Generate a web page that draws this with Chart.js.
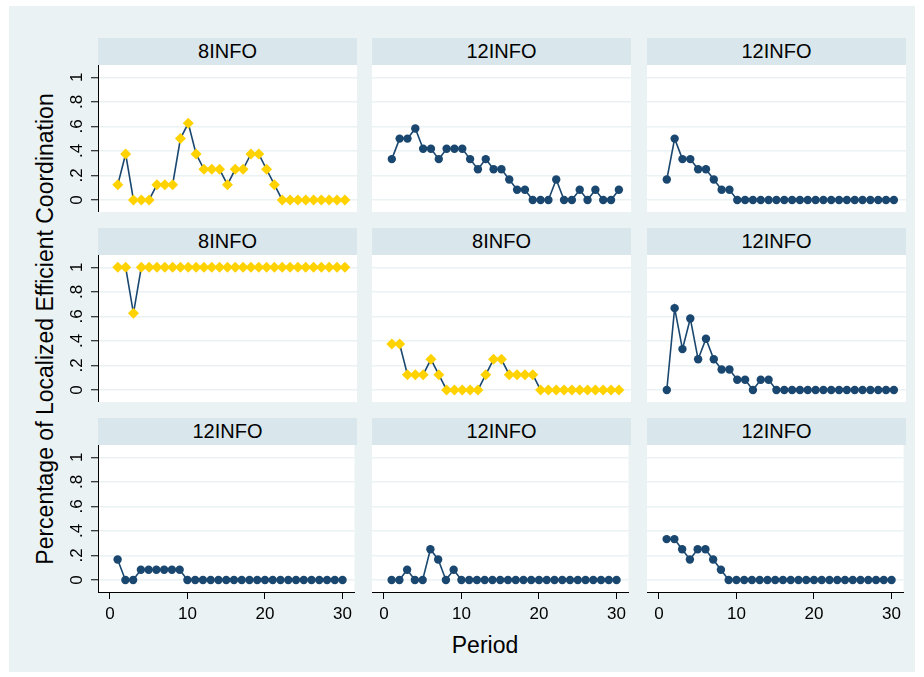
<!DOCTYPE html>
<html>
<head>
<meta charset="utf-8">
<script src="https://cdn.jsdelivr.net/npm/chart.js@4.4.0/dist/chart.umd.min.js"></script>
<style>
    body { margin: 0; background: #fff; font-family: "Liberation Sans", Arial, sans-serif; }
    #frame { position: absolute; left: 9px; top: 6px; width: 906px; height: 666px; background: #eaf2f3; }
    .strip { position: absolute; height: 27px; background: #d9e6eb; color: #000; font-size: 20px; text-align: center; line-height: 27px; }
    canvas { position: absolute; }
    .title { position: absolute; color: #000; font-size: 23px; white-space: nowrap; }
</style>
</head>
<body>
<div id="frame"></div>
<div class="title" style="left:45px;top:329px;transform:translate(-50%,-50%) rotate(-90deg);">Percentage of Localized Efficient Coordination</div>
<div class="title" style="left:485px;top:645px;transform:translate(-50%,-50%);">Period</div>
<script>
const periods = [1, 2, 3, 4, 5, 6, 7, 8, 9, 10, 11, 12, 13, 14, 15, 16, 17, 18, 19, 20, 21, 22, 23, 24, 25, 26, 27, 28, 29, 30];
const panelTitles = ['8INFO', '12INFO', '12INFO', '8INFO', '8INFO', '12INFO', '12INFO', '12INFO', '12INFO'];
const xTicks = [0, 10, 20, 30];
const yTicks = [0, 0.2, 0.4, 0.6, 0.8, 1];
const yTickLabels = ['0', '.2', '.4', '.6', '.8', '1'];

// one series per panel, left to right, top to bottom
const panel1 = [.125, .375, 0, 0, 0, .125, .125, .125, .5, .625, .375, .25, .25, .25, .125, .25, .25, .375, .375, .25, .125, 0, 0, 0, 0, 0, 0, 0, 0, 0];
const panel2 = [.333, .5, .5, .583, .417, .417, .333, .417, .417, .417, .333, .25, .333, .25, .25, .167, .083, .083, 0, 0, 0, .167, 0, 0, .083, 0, .083, 0, 0, .083];
const panel3 = [.167, .5, .333, .333, .25, .25, .167, .083, .083, 0, 0, 0, 0, 0, 0, 0, 0, 0, 0, 0, 0, 0, 0, 0, 0, 0, 0, 0, 0, 0];
const panel4 = [1, 1, .625, 1, 1, 1, 1, 1, 1, 1, 1, 1, 1, 1, 1, 1, 1, 1, 1, 1, 1, 1, 1, 1, 1, 1, 1, 1, 1, 1];
const panel5 = [.375, .375, .125, .125, .125, .25, .125, 0, 0, 0, 0, 0, .125, .25, .25, .125, .125, .125, .125, 0, 0, 0, 0, 0, 0, 0, 0, 0, 0, 0];
const panel6 = [0, .667, .333, .583, .25, .417, .25, .167, .167, .083, .083, 0, .083, .083, 0, 0, 0, 0, 0, 0, 0, 0, 0, 0, 0, 0, 0, 0, 0, 0];
const panel7 = [.167, 0, 0, .083, .083, .083, .083, .083, .083, 0, 0, 0, 0, 0, 0, 0, 0, 0, 0, 0, 0, 0, 0, 0, 0, 0, 0, 0, 0, 0];
const panel8 = [0, 0, .083, 0, 0, .25, .167, 0, .083, 0, 0, 0, 0, 0, 0, 0, 0, 0, 0, 0, 0, 0, 0, 0, 0, 0, 0, 0, 0, 0];
const panel9 = [.333, .333, .25, .167, .25, .25, .167, .083, 0, 0, 0, 0, 0, 0, 0, 0, 0, 0, 0, 0, 0, 0, 0, 0, 0, 0, 0, 0, 0, 0];
const panels = [panel1, panel2, panel3, panel4, panel5, panel6, panel7, panel8, panel9];

const navy = '#1a476f';
const gold = '#ffd200';
const fontFamily = '"Liberation Sans", Arial, sans-serif';

// panel geometry
const colX = [98, 372, 647];
const rowY = [38, 228, 418];
const plotW = 259, plotH = 147, stripH = 27;

// white plot region behind the grid
const plotBg = {
    id: 'plotBg',
    beforeDraw(chart) {
        const a = chart.chartArea, ctx = chart.ctx;
        ctx.save();
        ctx.fillStyle = '#fff';
        ctx.fillRect(a.left, a.top, a.right - a.left, a.bottom - a.top);
        ctx.restore();
    }
};

// y tick labels are rotated like the original
const rotatedY = {
    id: 'rotatedY',
    afterDraw(chart) {
        const s = chart.scales.y, ctx = chart.ctx;
        ctx.save();
        ctx.fillStyle = '#000';
        ctx.font = '17px ' + fontFamily;
        ctx.textAlign = 'center';
        ctx.textBaseline = 'middle';
        yTicks.forEach((v, k) => {
            ctx.save();
            ctx.translate(chart.chartArea.left - 21, s.getPixelForValue(v));
            ctx.rotate(-Math.PI / 2);
            ctx.fillText(yTickLabels[k], 0, 0);
            ctx.restore();
        });
        ctx.restore();
    }
};

function makePanel(i) {
    const col = i % 3, row = Math.floor(i / 3);
    const padL = col === 0 ? 40 : 0;
    const padB = row === 2 ? 48 : 0;
    const eight = panelTitles[i] === '8INFO';

    const strip = document.createElement('div');
    strip.className = 'strip';
    strip.style.left = colX[col] + 'px';
    strip.style.top = rowY[row] + 'px';
    strip.style.width = plotW + 'px';
    strip.textContent = panelTitles[i];
    document.body.appendChild(strip);

    const cv = document.createElement('canvas');
    cv.width = plotW + padL;
    cv.height = plotH + padB;
    cv.style.left = (colX[col] - padL) + 'px';
    cv.style.top = (rowY[row] + stripH) + 'px';
    document.body.appendChild(cv);

    new Chart(cv, {
        type: 'line',
        data: {
            datasets: [{
                data: periods.map((p, k) => ({ x: p, y: panels[i][k] })),
                borderColor: navy,
                borderWidth: 1.6,
                pointStyle: eight ? 'rectRot' : 'circle',
                pointRadius: eight ? 5.5 : 4.2,
                pointBackgroundColor: eight ? gold : navy,
                pointBorderColor: eight ? gold : navy,
                pointBorderWidth: 0,
                tension: 0
            }]
        },
        options: {
            responsive: false,
            animation: false,
            devicePixelRatio: 1,
            layout: { padding: 0, autoPadding: false },
            plugins: { legend: { display: false }, tooltip: { enabled: false } },
            scales: {
                x: {
                    type: 'linear',
                    min: -1.53,
                    max: 31.55,
                    afterBuildTicks: s => { s.ticks = xTicks.map(v => ({ value: v })); },
                    afterFit: s => { s.height = padB; },
                    grid: { drawOnChartArea: false, drawTicks: row === 2, tickLength: 7, tickColor: '#000', tickWidth: 1 },
                    border: { display: row === 2, color: '#000', width: 1 },
                    ticks: { display: row === 2, color: '#000', font: { size: 17, family: fontFamily }, padding: 5, maxRotation: 0 }
                },
                y: {
                    min: -0.098,
                    max: 1.1,
                    afterBuildTicks: s => { s.ticks = yTicks.map(v => ({ value: v })); },
                    afterFit: s => { s.width = padL; },
                    grid: { color: '#eaf2f3', lineWidth: 1.5, drawTicks: col === 0, tickLength: 7, tickColor: '#000', tickWidth: 1 },
                    border: { display: col === 0, color: '#000', width: 1 },
                    ticks: { display: false }
                }
            }
        },
        plugins: col === 0 ? [plotBg, rotatedY] : [plotBg]
    });
}

panels.forEach((p, i) => makePanel(i));
</script>
</body>
</html>
